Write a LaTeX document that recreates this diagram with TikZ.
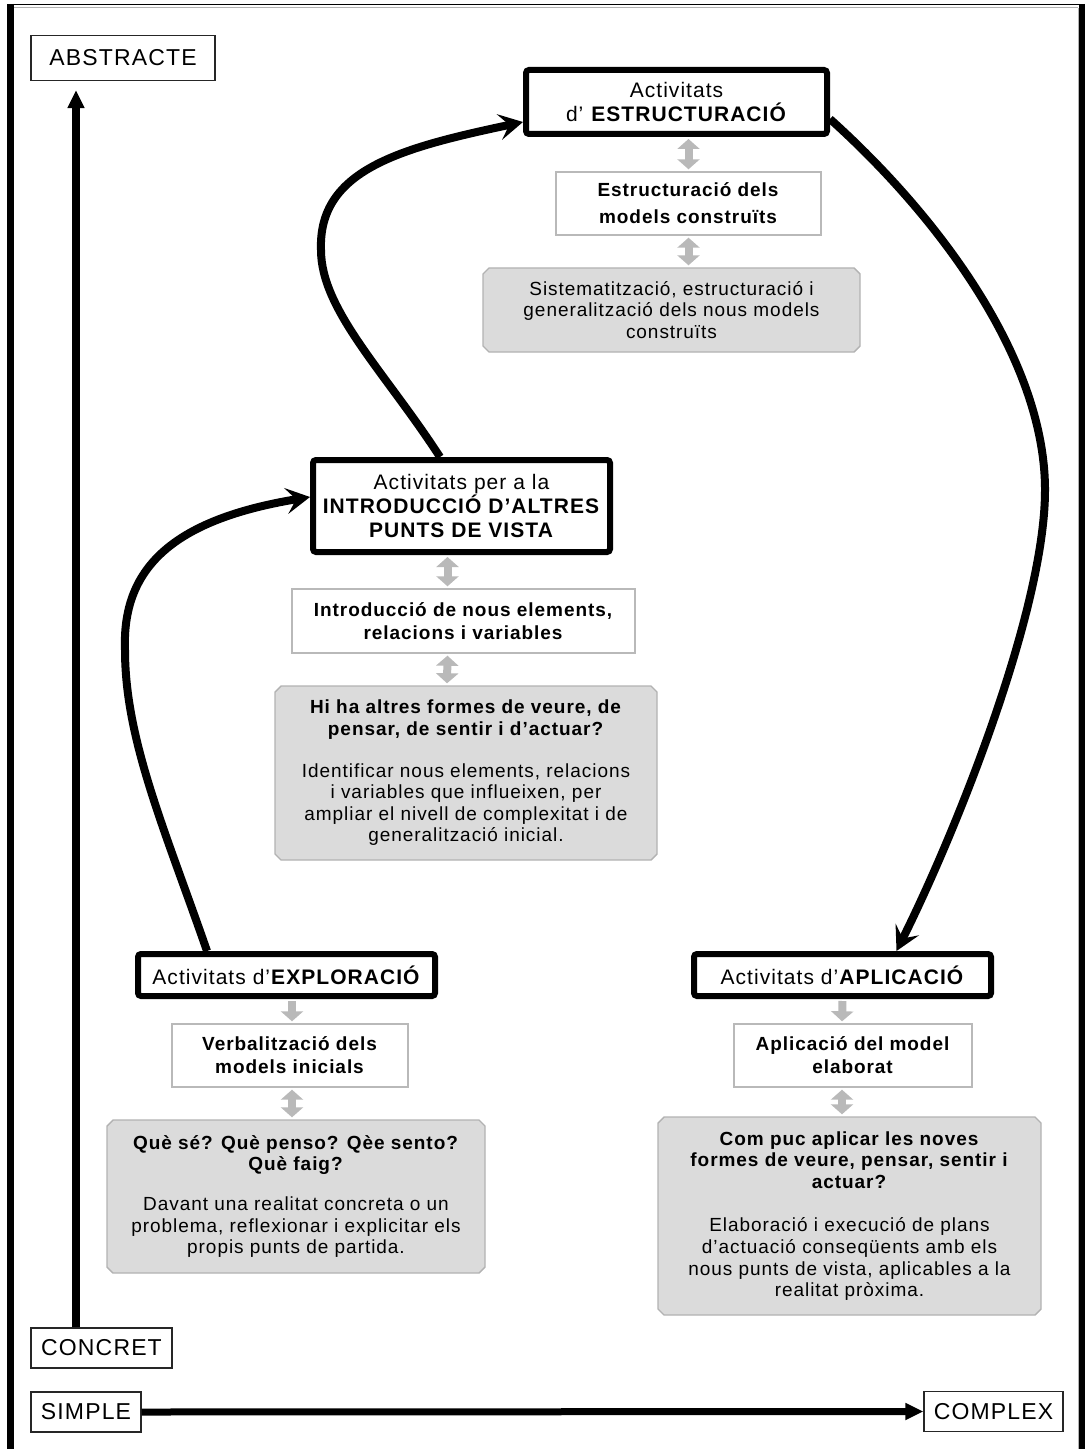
\documentclass[tikz,border=0pt]{standalone}
\usepackage{fontspec}
\setmainfont{Liberation Sans}[LetterSpace=5]
\usetikzlibrary{arrows.meta,shapes.misc}

\begin{document}
\begin{tikzpicture}[x=0.5pt,y=-0.5pt,
  axislabel/.style={draw=black!85, line width=0.6pt, inner sep=0pt, font=\fontsize{11.5}{13}\selectfont},
  phase/.style={draw=black, line width=3pt, rounded corners=1.5pt, align=center, inner sep=0pt, font=\fontsize{10.5}{12.2}\selectfont},
  model/.style={draw=gray!55, line width=0.7pt, fill=white, align=center, inner sep=0pt, font=\fontsize{9.5}{11.5}\selectfont},
  task/.style={chamfered rectangle, chamfered rectangle xsep=1.5pt, chamfered rectangle ysep=1.5pt, draw=gray!60, fill=gray!28, line width=0.7pt, align=center, inner sep=0pt, font=\fontsize{9.5}{10.8}\selectfont},
  tie/.style={draw=gray!55, line width=4pt, shorten <=1pt, shorten >=1pt, {Triangle[width=11pt,length=5pt]}-{Triangle[width=11pt,length=5pt]}},
  tiedown/.style={draw=gray!55, line width=4pt, shorten <=1pt, shorten >=1pt, -{Triangle[width=11pt,length=5pt]}},
  phasearrow/.style={draw=black, line width=4pt, -{Stealth[length=12pt,width=13pt,inset=5pt]}},
  axisarrow/.style={draw=black, line width=4pt, -{Triangle[length=9pt,width=8pt]}}]
\useasboundingbox (0,0) rectangle (1085,1449);
% frame
\draw[line width=3.5pt] (10.5,4) -- (10.5,1449);
\draw[line width=0.8pt] (7,4.5) -- (1085,4.5);
\draw[gray!60, line width=0.6pt] (14,7.3) -- (1078,7.3);
\draw[line width=3pt] (1082,4) -- (1082,1449);
\draw[gray!60, line width=0.6pt] (1078.3,8) -- (1078.3,1449);
% axes
\node[axislabel, minimum width=92pt, minimum height=22.5pt] (abs) at (123,58) {ABSTRACTE};
\node[axislabel, minimum width=70.5pt, minimum height=20pt] (conc) at (101.5,1348) {CONCRET};
\node[axislabel, minimum width=55pt, minimum height=20pt] (simp) at (86,1412) {SIMPLE};
\node[axislabel, minimum width=69.5pt, minimum height=20pt] (comp) at (993.5,1411.5) {COMPLEX};
% estructuracio
\node[phase, minimum width=150.5pt, minimum height=32pt] (E1) at (676.5,102) {Activitats\\d’ \textbf{ESTRUCTURACIÓ}};
\node[model, minimum width=132.5pt, minimum height=31.5pt] (E2) at (688.5,203.5) {\textbf{Estructuració dels}\\[2pt]\textbf{models construïts}};
\node[task, minimum width=188.5pt, minimum height=42pt] (E3) at (671.5,310) {Sistematització, estructuració i\\generalització dels nous models\\construïts};
% introduccio
\node[phase, minimum width=148.5pt, minimum height=46pt] (I1) at (461.5,506) {Activitats per a la\\\textbf{INTRODUCCIÓ D’ALTRES}\\\textbf{PUNTS DE VISTA}};
\node[model, minimum width=171.5pt, minimum height=32pt] (I2) at (463.5,621) {\textbf{Introducció de nous elements,}\\\textbf{relacions i variables}};
\node[task, minimum width=191pt, minimum height=87pt] (I3) at (466,773) {\textbf{Hi ha altres formes de veure, de}\\\textbf{pensar, de sentir i d’actuar?}\\[10pt]Identificar nous elements, relacions\\i variables que influeixen, per\\ampliar el nivell de complexitat i de\\generalització inicial.};
% exploracio
\node[phase, minimum width=148.5pt, minimum height=21pt] (X1) at (286.5,975) {Activitats d’\textbf{EXPLORACIÓ}};
\node[model, minimum width=118pt, minimum height=31.5pt] (X2) at (290,1055.5) {\textbf{Verbalització dels}\\\textbf{models inicials}};
\node[task, minimum width=189pt, minimum height=76.5pt] (X3) at (296,1196.5) {\textbf{Què sé? Què penso? Qèe sento?}\\\textbf{Què faig?}\\[9pt]Davant una realitat concreta o un\\problema, reflexionar i explicitar els\\propis punts de partida.};
% aplicacio
\node[phase, minimum width=148.5pt, minimum height=21pt] (A1) at (842.5,975) {Activitats d’\textbf{APLICACIÓ}};
\node[model, minimum width=119pt, minimum height=31.5pt] (A2) at (853,1055.5) {\textbf{Aplicació del model}\\\textbf{elaborat}};
\node[task, minimum width=191.5pt, minimum height=99pt] (A3) at (849.5,1216) {\textbf{Com puc aplicar les noves}\\\textbf{formes de veure, pensar, sentir i}\\\textbf{actuar?}\\[11pt]Elaboració i execució de plans\\d’actuació conseqüents amb els\\nous punts de vista, aplicables a la\\realitat pròxima.};
% grey links
\draw[tie] (E1.south -| E2.north) -- (E2.north);
\draw[tie] (E2.south) -- (E2.south |- E3.north);
\draw[tie] ([xshift=-7pt]I1.south) -- ([xshift=-8pt]I2.north);
\draw[tie] ([xshift=-8pt]I2.south) -- ([xshift=-9.5pt]I3.north);
\draw[tiedown] ([xshift=2.75pt]X1.south) -- ([xshift=1pt]X2.north);
\draw[tie] ([xshift=1pt]X2.south) -- ([xshift=-2pt]X3.north);
\draw[tiedown] (A1.south) -- ([xshift=-5.5pt]A2.north);
\draw[tie] ([xshift=-5.5pt]A2.south) -- ([xshift=-3.75pt]A3.north);
% cycle
\draw[phasearrow] ([xshift=36pt]X1.north west) .. controls (165,830) and (125,740) .. (125,650) .. controls (122,570) and (170,520) .. ([yshift=4.5pt]I1.west);
\draw[phasearrow] ([xshift=-10.75pt]I1.north) .. controls (385,372) and (321,310) .. (321,250) .. controls (318,170) and (400,148) .. ([yshift=-10pt]E1.west);
\draw[phasearrow] ([yshift=-8.5pt]E1.east) .. controls (940,218) and (1045,360) .. (1045,490) .. controls (1045,610) and (956,832) .. ([xshift=27pt]A1.north);
% axes arrows
\coordinate (axV) at ([xshift=-12.75pt]conc.north);
\draw[axisarrow, shorten >=4.5pt] (axV) -- (axV |- abs.south);
\draw[axisarrow, line width=3.5pt] (simp.east) -- (comp.west);
\end{tikzpicture}
\end{document}
